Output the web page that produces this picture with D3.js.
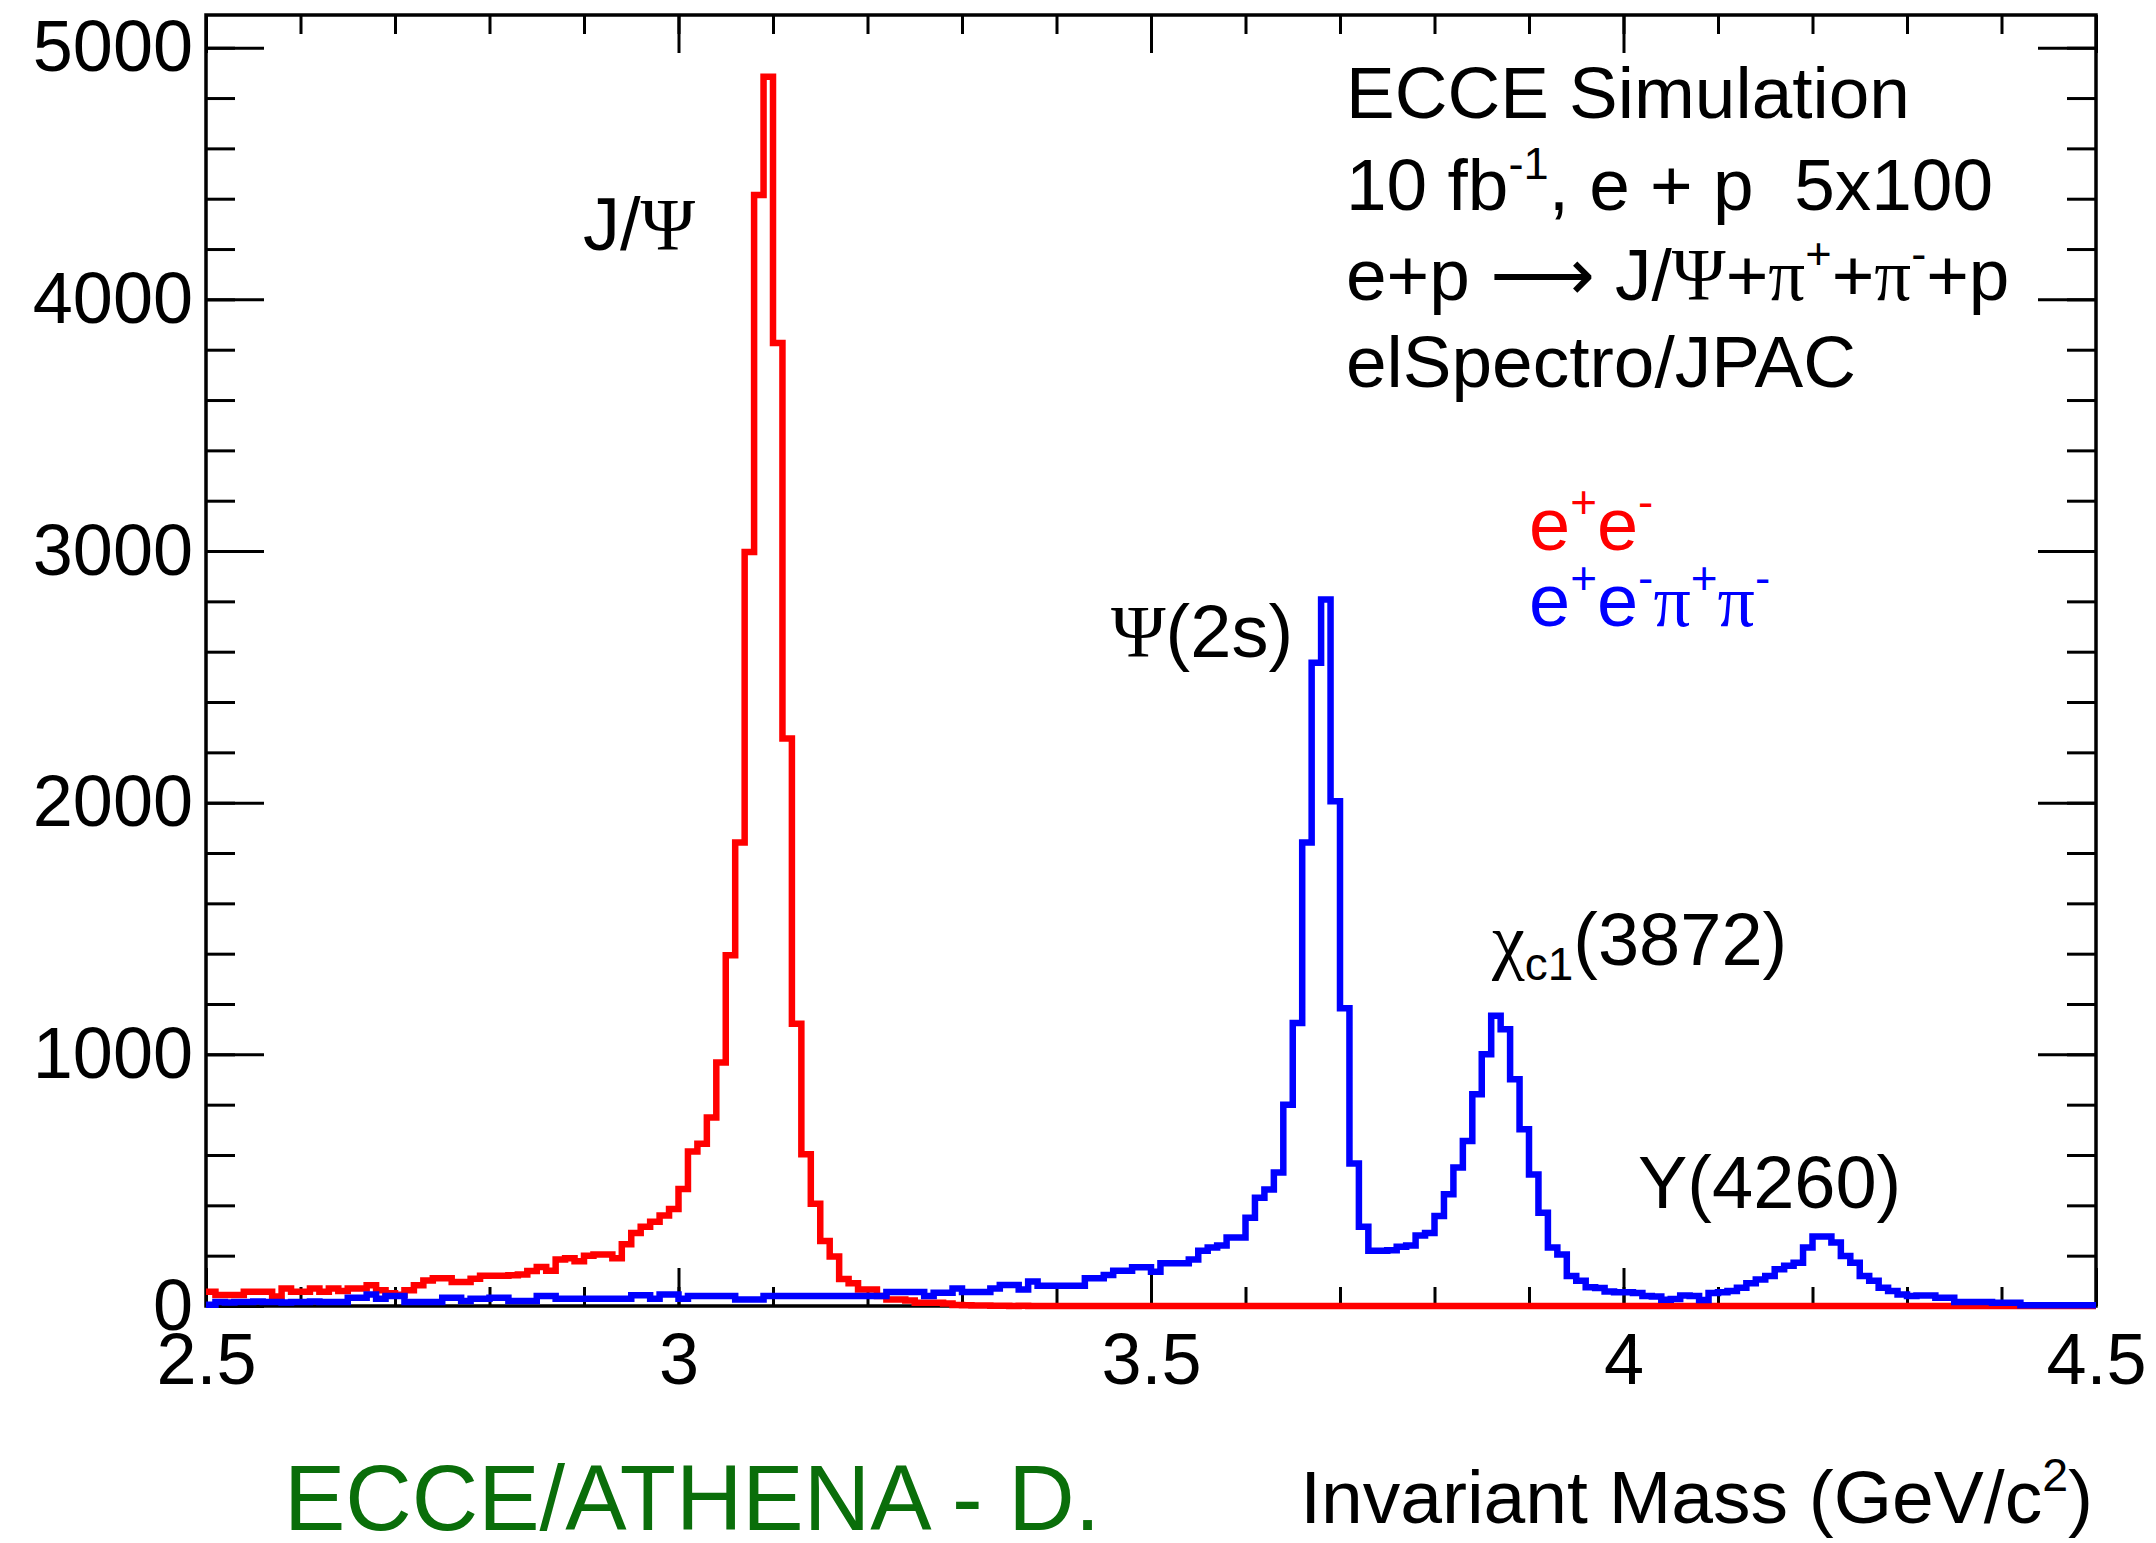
<!DOCTYPE html>
<html>
<head>
<meta charset="utf-8">
<script src="https://cdn.jsdelivr.net/npm/d3@7"></script>
<style>
  body { margin: 0; background: #fff; }
  text { font-family: "Liberation Sans", Arial, Helvetica, sans-serif; white-space: pre; }
</style>
</head>
<body>
<svg id="chart"></svg>
<script>
// histogram binning (2.5 - 4.5 GeV, 200 bins)
var xMin = 2.5, xMax = 4.5, binWidth = 0.01;

// e+e- (red)
var eeCounts = [
  57, 44, 44, 44, 57, 57, 57, 38, 70, 57,
  57, 70, 57, 70, 60, 70, 70, 82, 63, 51,
  45, 63, 82, 101, 110, 110, 95, 95, 108, 120,
  120, 120, 122, 125, 139, 155, 140, 185, 190, 178,
  200, 205, 205, 190, 245, 290, 315, 335, 360, 385,
  465, 614, 645, 749, 968, 1394, 1842, 2996, 4415, 4885,
  3827, 2255, 1122, 603, 406, 258, 197, 107, 90, 66,
  66, 40, 26, 26, 22, 13, 13, 13, 10, 4,
  3, 2, 2, 1, 1, 0, 1, 0, 0, 0,
  0, 0, 0, 0, 0, 0, 0, 0, 0, 0,
  0, 0, 0, 0, 0, 0, 0, 0, 0, 0,
  0, 0, 0, 0, 0, 0, 0, 0, 0, 0,
  0, 0, 0, 0, 0, 0, 0, 0, 0, 0,
  0, 0, 0, 0, 0, 0, 0, 0, 0, 0,
  0, 0, 0, 0, 0, 0, 0, 0, 0, 0,
  0, 0, 0, 0, 0, 0, 0, 0, 0, 0,
  0, 0, 0, 0, 0, 0, 0, 0, 0, 0,
  0, 0, 0, 0, 0, 0, 0, 0, 0, 0,
  0, 0, 0, 0, 0, 0, 0, 0, 0, 0,
  0, 0, 0, 0, 0, 0, 0, 0, 0, 0
];

// e+e-pi+pi- (blue)
var eepipiCounts = [
  5, 16, 14, 16, 16, 18, 16, 16, 14, 16,
  16, 18, 16, 16, 16, 33, 33, 46, 29, 40,
  40, 16, 16, 16, 16, 33, 33, 20, 29, 29,
  33, 33, 20, 20, 20, 40, 40, 29, 29, 29,
  29, 29, 29, 29, 29, 43, 43, 29, 46, 46,
  29, 40, 40, 40, 40, 40, 26, 26, 26, 40,
  40, 40, 40, 40, 40, 40, 40, 40, 40, 40,
  40, 40, 56, 56, 56, 56, 40, 53, 53, 70,
  56, 56, 56, 70, 83, 83, 66, 97, 80, 80,
  80, 80, 80, 110, 110, 123, 140, 140, 154, 154,
  136, 170, 170, 170, 185, 220, 232, 240, 272, 272,
  351, 430, 463, 530, 800, 1125, 1842, 2556, 2807, 2006,
  1183, 566, 315, 220, 220, 222, 235, 240, 280, 290,
  358, 444, 550, 656, 841, 1000, 1153, 1100, 901, 702,
  523, 371, 232, 205, 119, 100, 75, 72, 58, 55,
  55, 52, 40, 38, 25, 28, 42, 40, 24, 52,
  55, 60, 73, 90, 105, 119, 146, 160, 172, 232,
  276, 276, 252, 199, 172, 119, 100, 73, 60, 46,
  40, 42, 42, 33, 33, 16, 16, 16, 16, 13,
  13, 13, 3, 3, 3, 3, 3, 3, 3, 3
];

var xMajorTicks = [2.5, 3, 3.5, 4, 4.5];
var xTickLabels = ["2.5", "3", "3.5", "4", "4.5"];
var yMajorTicks = [0, 1000, 2000, 3000, 4000, 5000];
var yMax = 5130;

var width = 2156, height = 1543;
var frame = { left: 206, right: 2096, top: 15, bottom: 1306 };

var sans = '"Liberation Sans", Arial, Helvetica, sans-serif';
var serif = '"Liberation Serif", "DejaVu Serif", "Times New Roman", serif';

var svg = d3.select("#chart").attr("width", width).attr("height", height);
svg.append("rect").attr("width", width).attr("height", height).attr("fill", "#fff");

var x = d3.scaleLinear().domain([xMin, xMax]).range([frame.left, frame.right]);
var y = d3.scaleLinear().domain([0, yMax]).range([frame.bottom, frame.top]);

var xMinor = d3.range(xMin, xMax + 1e-6, 0.1);
var yMinor = d3.range(0, yMax, 200);

function styleAxis(g) {
  g.select(".domain").remove();
  g.selectAll(".tick line").attr("stroke", "#000").attr("stroke-width", 3);
  g.selectAll(".tick text").attr("fill", "#000").attr("font-family", sans).attr("font-size", 72);
}

// minor ticks all four sides
svg.append("g").attr("transform", "translate(0," + frame.bottom + ")")
  .call(d3.axisBottom(x).tickValues(xMinor).tickSize(-19).tickFormat("")).call(styleAxis);
svg.append("g").attr("transform", "translate(0," + frame.top + ")")
  .call(d3.axisTop(x).tickValues(xMinor).tickSize(-19).tickFormat("")).call(styleAxis);
svg.append("g").attr("transform", "translate(" + frame.left + ",0)")
  .call(d3.axisLeft(y).tickValues(yMinor).tickSize(-29).tickFormat("")).call(styleAxis);
svg.append("g").attr("transform", "translate(" + frame.right + ",0)")
  .call(d3.axisRight(y).tickValues(yMinor).tickSize(-29).tickFormat("")).call(styleAxis);

// major ticks + labels
svg.append("g").attr("transform", "translate(0," + frame.bottom + ")")
  .call(d3.axisBottom(x).tickValues(xMajorTicks).tickSize(-38).tickPadding(27)
    .tickFormat(function(d, i) { return xTickLabels[i]; }))
  .call(styleAxis);
svg.append("g").attr("transform", "translate(0," + frame.top + ")")
  .call(d3.axisTop(x).tickValues(xMajorTicks).tickSize(-38).tickFormat("")).call(styleAxis);
svg.append("g").attr("transform", "translate(" + frame.left + ",0)")
  .call(d3.axisLeft(y).tickValues(yMajorTicks).tickSize(-58).tickPadding(13).tickFormat(d3.format("d")))
  .call(styleAxis);
svg.append("g").attr("transform", "translate(" + frame.right + ",0)")
  .call(d3.axisRight(y).tickValues(yMajorTicks).tickSize(-58).tickFormat("")).call(styleAxis);

// frame
svg.append("rect")
  .attr("x", frame.left).attr("y", frame.top)
  .attr("width", frame.right - frame.left).attr("height", frame.bottom - frame.top)
  .attr("fill", "none").attr("stroke", "#000").attr("stroke-width", 3.5);

// histograms as step outlines
function toSteps(counts) {
  var pts = counts.map(function(v, i) { return { x: xMin + i * binWidth, v: v }; });
  pts.push({ x: xMax, v: counts[counts.length - 1] });
  return pts;
}
var stepLine = d3.line()
  .x(function(d) { return x(d.x); })
  .y(function(d) { return y(d.v); })
  .curve(d3.curveStepAfter);

svg.append("path").datum(toSteps(eeCounts))
  .attr("d", stepLine).attr("fill", "none")
  .attr("stroke", "#ff0000").attr("stroke-width", 6.5).attr("stroke-linejoin", "miter");
svg.append("path").datum(toSteps(eepipiCounts))
  .attr("d", stepLine).attr("fill", "none")
  .attr("stroke", "#0000ff").attr("stroke-width", 6.5).attr("stroke-linejoin", "miter");

// text with ROOT-style sub/superscripts
function richText(px, py, parts, size, color, anchor) {
  var t = svg.append("text").attr("x", px).attr("y", py)
    .attr("font-size", size).attr("fill", color || "#000")
    .attr("text-anchor", anchor || "start");
  var shift = 0;
  parts.forEach(function(p) {
    if (typeof p === "string") p = { t: p };
    var target = p.sup ? -0.43 * size : (p.sub ? 0.2 * size : 0);
    var s = t.append("tspan").text(p.t).attr("dy", target - shift);
    shift = target;
    if (p.sup || p.sub) s.attr("font-size", size * 0.62);
    if (p.serif) s.attr("font-family", serif);
    if (p.font) s.attr("font-family", p.font);
  });
  return t;
}

// info box
var fsBox = 73;
richText(1346, 118, ["ECCE Simulation"], fsBox);
richText(1346, 210, ["10 fb", { t: "-1", sup: true }, ", e + p  5x100"], fsBox);
richText(1346, 300, ["e+p ", { t: "\u27F6", font: '"DejaVu Sans", sans-serif' }, " J/", { t: "\u03A8", serif: true }, "+",
  { t: "\u03C0", serif: true }, { t: "+", sup: true }, "+", { t: "\u03C0", serif: true },
  { t: "-", sup: true }, "+p"], fsBox);
richText(1346, 387, ["elSpectro/JPAC"], fsBox);

// peak labels
richText(583, 250, ["J/", { t: "\u03A8", serif: true }], 74);
richText(1111, 657, [{ t: "\u03A8", serif: true }, "(2s)"], 74);
richText(1492, 965, [{ t: "\u03C7", serif: true }, { t: "c1", sub: true }, "(3872)"], 74);
richText(1638, 1208, ["Y(4260)"], 74);

// legend
richText(1529, 550, ["e", { t: "+", sup: true }, "e", { t: "-", sup: true }], 74, "#ff0000");
richText(1529, 626, ["e", { t: "+", sup: true }, "e", { t: "-", sup: true },
  { t: "\u03C0", serif: true }, { t: "+", sup: true }, { t: "\u03C0", serif: true }, { t: "-", sup: true }], 74, "#0000ff");

// axis title
richText(2093, 1523, ["Invariant Mass (GeV/c", { t: "2", sup: true }, ")"], 75, "#000", "end");

// footer
svg.append("text").attr("x", 284).attr("y", 1530)
  .attr("font-size", 92).attr("fill", "#0a6e0a")
  .text("ECCE/ATHENA - D.");
</script>
</body>
</html>
